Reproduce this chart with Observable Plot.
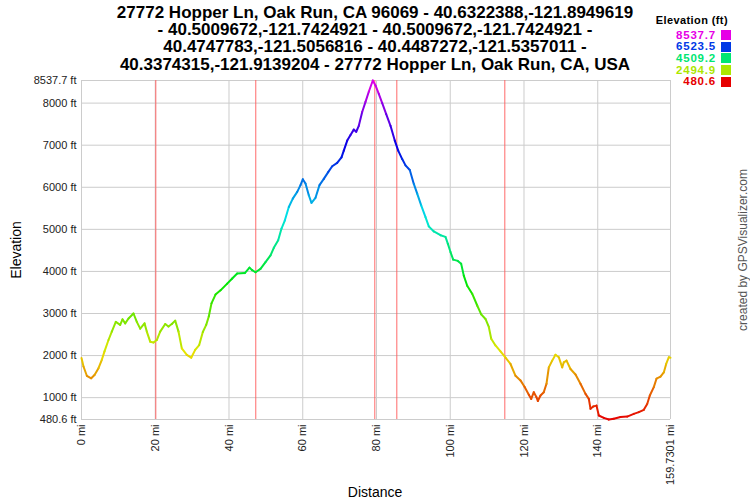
<!DOCTYPE html>
<html>
<head>
<meta charset="utf-8">
<script src="https://cdn.jsdelivr.net/npm/d3@7"></script>
<script src="https://cdn.jsdelivr.net/npm/@observablehq/plot@0.6"></script>
<style>
  body { margin: 0; background: white; font-family: "Liberation Sans", Arial, sans-serif; }
  #wrap { position: relative; width: 750px; height: 500px; overflow: hidden; }
  .abs { position: absolute; white-space: nowrap; }
  #title { left: 0; width: 750px; top: 4px; text-align: center; font-weight: bold; font-size: 17px; line-height: 17.2px; color: #000; }
  #legtitle { right: 22px; top: 14px; font-weight: bold; font-size: 11px; line-height: 12px; color: #000; letter-spacing: 0.4px; }
  .legval { font-weight: bold; font-size: 11.5px; line-height: 11px; text-align: right; width: 80px; letter-spacing: 0.8px; }
  .sw { width: 10px; height: 10px; }
  #ylab { left: 16px; top: 250px; font-size: 14px; color: #000; transform: translate(-50%, -50%) rotate(-90deg); }
  #xlab { left: 375px; top: 492px; font-size: 14px; color: #000; transform: translate(-50%, -50%); }
  #credit { left: 743px; top: 250px; font-size: 12px; color: #555; transform: translate(-50%, -50%) rotate(-90deg); }
</style>
</head>
<body>
<div id="wrap"></div>
<script>
// Distance (mi) and elevation (ft) read from the profile
const dist = [0, 0.54, 1.45, 2.63, 3.53, 4.61, 5.51, 6.24, 7.32, 8.22, 9.30, 10.49, 11.12, 11.85, 12.75, 14.10, 15.00, 15.92, 17.09, 17.71, 18.63, 19.53, 20.42, 21.34, 22.70, 23.59, 24.49, 25.41, 26.31, 27.20, 28.56, 29.75, 30.83, 31.92, 32.90, 33.82, 34.52, 35.25, 36.34, 37.70, 39.51, 40.87, 42.22, 44.29, 45.56, 46.29, 47.19, 48.54, 49.90, 51.26, 52.15, 53.34, 54.24, 55.13, 56.22, 57.30, 58.50, 59.39, 60.01, 60.75, 61.64, 62.37, 63.46, 64.54, 65.71, 66.90, 67.99, 69.34, 70.51, 71.13, 72.06, 72.95, 73.84, 74.50, 75.20, 76.12, 77.02, 77.91, 79.00, 79.73, 80.62, 81.55, 82.63, 83.80, 84.96, 85.89, 86.97, 87.87, 89.03, 90.12, 91.04, 92.12, 93.29, 94.18, 95.54, 97.36, 98.71, 99.34, 100.07, 100.80, 102.05, 102.97, 103.67, 104.60, 105.95, 107.31, 108.40, 109.56, 110.46, 111.11, 112.27, 113.63, 114.99, 116.34, 117.70, 119.05, 120.14, 121.31, 121.96, 122.66, 123.39, 123.75, 124.48, 125.37, 126.10, 126.73, 127.65, 128.54, 129.44, 130.36, 130.80, 131.53, 132.61, 133.97, 135.32, 136.68, 137.58, 138.04, 138.77, 139.66, 140.29, 141.64, 143.00, 144.36, 146.17, 147.99, 149.78, 151.14, 152.49, 153.41, 154.12, 155.20, 155.93, 157.02, 157.91, 158.56, 159.27, 159.7301];
const elev = [1940, 1740, 1520, 1460, 1540, 1700, 1900, 2100, 2370, 2570, 2800, 2730, 2860, 2765, 2880, 3000, 2800, 2640, 2765, 2570, 2330, 2310, 2370, 2570, 2750, 2690, 2750, 2830, 2570, 2170, 2015, 1950, 2135, 2250, 2560, 2730, 2930, 3240, 3450, 3550, 3710, 3830, 3950, 3960, 4090, 4030, 3980, 4060, 4220, 4380, 4560, 4740, 5020, 5210, 5530, 5730, 5890, 6050, 6190, 6090, 5810, 5630, 5750, 6050, 6200, 6360, 6500, 6580, 6710, 6870, 7110, 7240, 7370, 7320, 7460, 7790, 8030, 8270, 8537.7, 8420, 8220, 8000, 7740, 7460, 7110, 6870, 6670, 6520, 6410, 6080, 5850, 5570, 5290, 5070, 4950, 4860, 4820, 4660, 4460, 4280, 4250, 4180, 3900, 3660, 3470, 3190, 2980, 2870, 2680, 2400, 2240, 2100, 1950, 1800, 1520, 1410, 1260, 1070, 970, 1130, 1010, 920, 1050, 1130, 1330, 1720, 1880, 2020, 1960, 1720, 1840, 1880, 1680, 1550, 1330, 1090, 970, 735, 790, 810, 575, 520, 480.6, 500, 540, 550, 615, 655, 710, 850, 1050, 1250, 1450, 1500, 1600, 1800, 1960, 1950];
// Waypoint markers (mi)
const waypoints = [20.15, 47.26, 79.54, 85.51, 114.8];
// Tick values
const xTicks = [0, 20, 40, 60, 80, 100, 120, 140, 159.7301];
const yTicks = [480.6, 1000, 2000, 3000, 4000, 5000, 6000, 7000, 8000, 8537.7];
// Legend values
const legendValues = [8537.7, 6523.5, 4509.2, 2494.9, 480.6];
const titleLines = [
  "27772 Hopper Ln, Oak Run, CA 96069 - 40.6322388,-121.8949619",
  "- 40.5009672,-121.7424921 - 40.5009672,-121.7424921 -",
  "40.4747783,-121.5056816 - 40.4487272,-121.5357011 -",
  "40.3374315,-121.9139204 - 27772 Hopper Ln, Oak Run, CA, USA"
];

const eMin = 480.6, eMax = 8537.7;
const interp = t => d3.hsl(300 * t, 1, 0.45).formatHex();
const colorOf = v => interp((v - eMin) / (eMax - eMin));

const segs = dist.slice(1).map((d, i) => ({x1: dist[i], x2: d, y1: elev[i], y2: elev[i + 1], e: (elev[i] + elev[i + 1]) / 2}));

const chart = Plot.plot({
  width: 750, height: 500,
  marginLeft: 81, marginRight: 80, marginTop: 80, marginBottom: 81,
  style: {fontFamily: "'Liberation Sans', Arial, sans-serif", fontSize: "11px", color: "#222", background: "transparent", overflow: "visible"},
  x: {domain: [0, 159.7301], label: null, ticks: xTicks, tickFormat: d => d + " mi", tickRotate: -90, tickSize: 0, tickPadding: 5},
  y: {domain: [eMin, eMax], label: null, ticks: yTicks, tickFormat: d => d + " ft", tickSize: 0, tickPadding: 5},
  color: {type: "linear", domain: [eMin, eMax], interpolate: interp},
  marks: [
    Plot.ruleY(yTicks, {stroke: "#cccccc"}),
    Plot.ruleX(xTicks, {stroke: "#cccccc"}),
    Plot.ruleX(waypoints, {stroke: "#ff5a5a", strokeOpacity: 0.9}),
    Plot.link(segs, {x1: "x1", y1: "y1", x2: "x2", y2: "y2", stroke: "e", strokeWidth: 2, strokeLinecap: "round"})
  ]
});

const wrap = document.getElementById("wrap");
chart.style.position = "absolute";
chart.style.left = "0px";
chart.style.top = "0px";
wrap.appendChild(chart);

function addDiv(id, cls, html, styles) {
  const d = document.createElement("div");
  if (id) d.id = id;
  d.className = "abs " + (cls || "");
  d.innerHTML = html;
  Object.assign(d.style, styles || {});
  wrap.appendChild(d);
  return d;
}
addDiv("title", "", titleLines.join("<br>"));
addDiv("legtitle", "", "Elevation (ft)");
legendValues.forEach((v, i) => {
  const cy = 35 + i * 11.7;
  addDiv(null, "legval", String(v), {left: (716 - 80) + "px", top: (cy - 5.5) + "px", color: colorOf(v)});
  addDiv(null, "sw", "", {left: "721px", top: (cy - 5) + "px", background: colorOf(v)});
});
addDiv("ylab", "", "Elevation");
addDiv("xlab", "", "Distance");
addDiv("credit", "", "created by GPSVisualizer.com");
</script>
</body>
</html>
